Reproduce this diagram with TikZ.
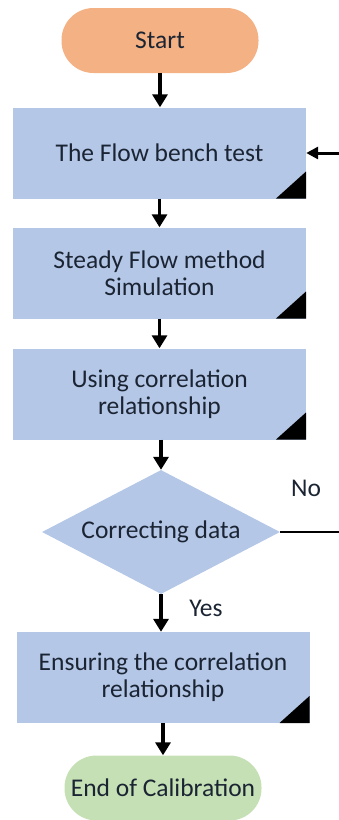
\documentclass[tikz,border=0pt]{standalone}
\usepackage{fontspec}
\setmainfont{Carlito}
\usetikzlibrary{shapes.geometric,arrows.meta}
\definecolor{procblue}{HTML}{B4C7E7}
\definecolor{startorange}{HTML}{F4B183}
\definecolor{endgreen}{HTML}{C5E0B4}
\definecolor{inktext}{HTML}{1B2433}
\tikzset{
  base/.style={font=\fontsize{25.5}{27}\selectfont, text=inktext, align=center, inner sep=0pt},
  terminal/.style={base, rectangle, rounded corners=32pt, minimum width=197pt, minimum height=65pt},
  procbox/.style={base, rectangle, fill=procblue, minimum width=293pt, minimum height=91pt,
    path picture={\fill[black] (path picture bounding box.south east) -- ++(-30pt,0pt) -- ++(30pt,27pt) -- cycle;}},
  decision/.style={base, diamond, fill=procblue, aspect=1.92, minimum width=238pt, minimum height=124pt},
  flow/.style={line width=3.8pt, -{Triangle[width=15pt,length=13pt]}},
  sideflow/.style={line width=3pt, -{Triangle[width=12pt,length=12pt]}},
  plainline/.style={line width=2.2pt},
  lbl/.style={base}
}
\begin{document}
\begin{tikzpicture}[x=1pt,y=-1pt]
  \useasboundingbox (0,0) rectangle (339,820);

  \node[terminal, fill=startorange] (start) at (160,40.5) {Start};
  \node[procbox] (b1) at (159.5,153) {The Flow bench test};
  \node[procbox] (b2) at (159.5,273) {Steady Flow method\\Simulation};
  \node[procbox] (b3) at (159.5,394) {Using correlation\\relationship};
  \node[decision] (dec) at (161,532) {Correcting data};
  \node[procbox] (b4) at (163,677.5) {Ensuring the correlation\\relationship};
  \node[terminal, fill=endgreen] (end) at (163,788) {End of Calibration};

  \node[lbl] (no) at (306,488) {No};
  \node[lbl] (yes) at (206,608) {Yes};

  \coordinate (loopin) at (339,153);
  \coordinate (loopout) at (339,532);

  \draw[flow] (start.south) -- (start.south |- b1.north);
  \draw[flow] (b1.south) -- (b2.north);
  \draw[flow] (b2.south) -- (b3.north);
  \draw[flow] (b3.south -| dec.north) -- (dec.north);
  \draw[flow] (dec.south) -- (dec.south |- b4.north);
  \draw[flow] (b4.south) -- (b4.south |- end.north);
  \draw[plainline] (dec.east) -- (loopout);
  \draw[sideflow] (loopin) -- (b1.east);
\end{tikzpicture}
\end{document}
